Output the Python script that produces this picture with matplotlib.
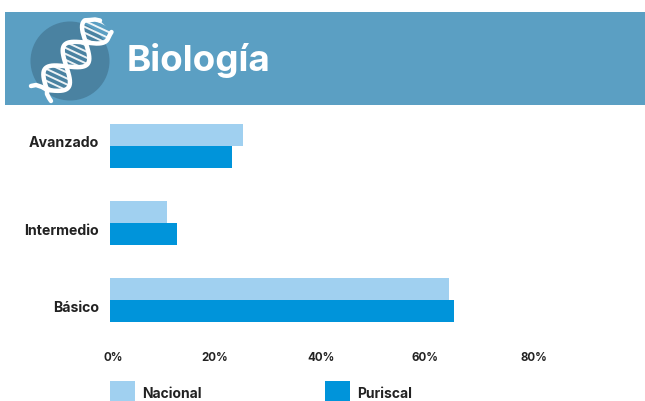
import matplotlib

matplotlib.use("Agg")
import matplotlib.pyplot as plt
import numpy as np
from matplotlib.patches import Circle, Polygon, Rectangle
from matplotlib.transforms import ScaledTranslation

WIDTH, HEIGHT = 645, 402

categories = ["Avanzado", "Intermedio", "Básico"]
nacional = [25.1, 10.8, 64.0]
puriscal = [23.0, 12.6, 64.9]
x_ticks = [0, 20, 40, 60, 80]
x_tick_labels = ["0%", "20%", "40%", "60%", "80%"]

NACIONAL_COLOR = "#a0d0f0"
PURISCAL_COLOR = "#0094da"
BANNER_COLOR = "#5b9fc3"
CIRCLE_COLOR = "#4a82a1"
TEXT_COLOR = "#222222"
FONT = "Inter"


def draw_helix(ax):
    # icon only, pixel coordinates of the banner layer
    start = np.array([47.0, 91.0])
    end = np.array([105.0, 20.0])
    axis = end - start
    length = np.hypot(*axis)
    unit = axis / length
    normal = np.array([-unit[1], unit[0]])
    amp = 15.0

    t = np.linspace(0, 0.85, 300)
    wave = amp * np.sin(2 * np.pi * 1.5 * t)
    strand_a = start + np.outer(t * length, unit) + np.outer(wave, normal)
    strand_b = start + np.outer(t * length, unit) - np.outer(wave, normal)

    # hooks at the open top of the helix
    strand_a = np.vstack([strand_a, [[110, 35.5], [111.5, 33]]])
    strand_b = np.vstack([strand_b, [[90, 21], [95, 20.5], [100, 21.5]]])

    # stripes, clipped to the lobes between the strands
    lobe = Polygon(np.vstack([strand_a, strand_b[::-1]]), closed=True, fc="none", ec="none")
    ax.add_patch(lobe)
    for offset in np.arange(-60, 60, 5.6):
        mid = np.array([75.0, 55.0]) + offset * unit
        d = np.array([0.9, 0.42]) * 30
        line, = ax.plot([mid[0] - d[0], mid[0] + d[0]], [mid[1] - d[1], mid[1] + d[1]],
                        color="white", lw=1.4, alpha=0.9, zorder=3)
        line.set_clip_path(lobe)

    for pts in (strand_a, strand_b):
        ax.plot(pts[:, 0], pts[:, 1], color="white", lw=3.2, solid_capstyle="round", zorder=4)

    # short tails below the last crossing
    ax.plot([47, 42, 36, 31], [91, 88, 86, 87], color="white", lw=3.2, solid_capstyle="round", zorder=4)
    ax.plot([47, 47, 49, 51], [91, 95, 99, 102], color="white", lw=3.2, solid_capstyle="round", zorder=4)


def nudge(label, dx, dy):
    label.set_transform(label.get_transform() + ScaledTranslation(dx / 100, -dy / 100, fig.dpi_scale_trans))


fig = plt.figure(figsize=(WIDTH / 100, HEIGHT / 100), dpi=100)

# banner layer in pixel coordinates
bg = fig.add_axes([0, 0, 1, 1])
bg.set_xlim(0, WIDTH)
bg.set_ylim(HEIGHT, 0)
bg.axis("off")
bg.add_patch(Rectangle((5, 13), 640, 93, color=BANNER_COLOR, lw=0))
bg.add_patch(Circle((70, 62), 39.5, color=CIRCLE_COLOR, lw=0))
draw_helix(bg)
bg.text(127, 61, "Biología", color="white", fontsize=26.5, fontweight="bold", family=FONT, va="center", ha="left")

# chart
left, right, top, bottom = 110, 640, 108.5, 339.5
ax = fig.add_axes([left / WIDTH, 1 - bottom / HEIGHT, (right - left) / WIDTH, (bottom - top) / HEIGHT])
y = np.arange(len(categories))
bar_h = 22 / 77
ax.barh(y - bar_h / 2, nacional, height=bar_h, color=NACIONAL_COLOR)
ax.barh(y + bar_h / 2, puriscal, height=bar_h, color=PURISCAL_COLOR)
ax.set_xlim(0, 100)
ax.set_ylim(2.5, -0.5)
for side in ax.spines.values():
    side.set_visible(False)
ax.set_yticks(y)
ax.set_yticklabels(categories, fontsize=10.2, fontweight="bold", family=FONT, color=TEXT_COLOR)
ax.set_xticks(x_ticks)
ax.set_xticklabels(x_tick_labels, fontsize=8.3, fontweight="bold", family=FONT, color=TEXT_COLOR)
ax.tick_params(axis="y", length=0, pad=8)
ax.tick_params(axis="x", length=0, pad=9)

# labels sit off the bar centres and tick positions in the original
for label, dy in zip(ax.get_yticklabels(), [-5.5, 6, 6]):
    nudge(label, 0, dy)
for label, dx in zip(ax.get_xticklabels(), [3, -1, -1, -3, 0]):
    nudge(label, dx, 0)

# legend swatches
bg.add_patch(Rectangle((110, 382), 25, 21, color=NACIONAL_COLOR, lw=0))
bg.add_patch(Rectangle((325, 382), 25, 21, color=PURISCAL_COLOR, lw=0))
bg.text(142, 394.5, "Nacional", fontsize=10, fontweight="bold", family=FONT, color=TEXT_COLOR, va="center")
bg.text(357, 394.5, "Puriscal", fontsize=10, fontweight="bold", family=FONT, color=TEXT_COLOR, va="center")

fig.savefig("out.png", dpi=100)
